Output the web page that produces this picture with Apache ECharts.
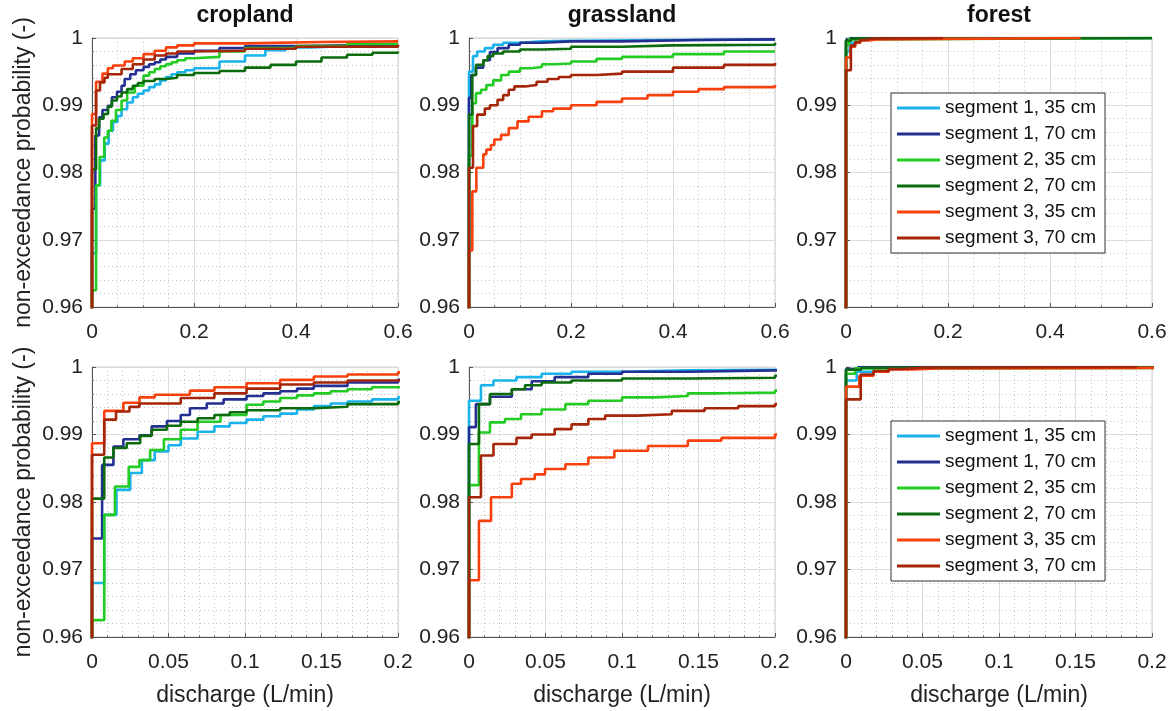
<!DOCTYPE html>
<html>
<head>
<meta charset="utf-8">
<script src="https://cdn.jsdelivr.net/npm/echarts@6/dist/echarts.min.js"></script>
<style>
  html, body { margin: 0; padding: 0; background: #fff; }
  #chart { width: 1175px; height: 711px; }
</style>
</head>
<body>
<div id="chart"></div>
<script>
const landUses = ['cropland', 'grassland', 'forest']
const seriesNames = [
  'segment 1, 35 cm',
  'segment 1, 70 cm',
  'segment 2, 35 cm',
  'segment 2, 70 cm',
  'segment 3, 35 cm',
  'segment 3, 70 cm',
]
const seriesColors = ['#1ab2ea', '#232f91', '#22cc22', '#0c6b0c', '#f8400c', '#a52508']

const yTicks = [0.96, 0.97, 0.98, 0.99, 1]
const xTicksTop = [0, 0.2, 0.4, 0.6]
const xTicksBottom = [0, 0.05, 0.1, 0.15, 0.2]

// [discharge, non-exceedance probability] step points
const cropS1_35 = [[0, 0], [0, 0.968], [0.008, 0.9781], [0.016, 0.9818], [0.025, 0.9843], [0.0326, 0.9862], [0.041, 0.9875], [0.05, 0.9884], [0.058, 0.9894], [0.069, 0.9904], [0.08, 0.9912], [0.09, 0.9917], [0.101, 0.9922], [0.112, 0.9927], [0.123, 0.9931], [0.134, 0.9937], [0.145, 0.9942], [0.156, 0.9946], [0.167, 0.9949], [0.183, 0.9952], [0.2, 0.9955], [0.25, 0.9965], [0.3, 0.9974], [0.34, 0.9982], [0.38, 0.9986], [0.43, 0.9988], [0.5, 0.999], [0.6, 0.9991]]
const cropS1_70 = [[0, 0], [0, 0.9746], [0.0066, 0.9855], [0.014, 0.9882], [0.0205, 0.9893], [0.031, 0.9899], [0.039, 0.9912], [0.049, 0.992], [0.058, 0.9929], [0.064, 0.9939], [0.075, 0.9946], [0.086, 0.9952], [0.101, 0.9957], [0.112, 0.9961], [0.123, 0.9964], [0.134, 0.9968], [0.145, 0.9972], [0.167, 0.9977], [0.2, 0.9981], [0.25, 0.9985], [0.3, 0.9988], [0.4, 0.9989], [0.5, 0.999], [0.6, 0.9991]]
const cropS2_35 = [[0, 0], [0, 0.9625], [0.008, 0.9781], [0.015, 0.9823], [0.024, 0.9852], [0.031, 0.9862], [0.038, 0.9877], [0.047, 0.9893], [0.058, 0.9907], [0.069, 0.9919], [0.084, 0.9929], [0.101, 0.9944], [0.112, 0.9949], [0.123, 0.9954], [0.134, 0.9958], [0.145, 0.9961], [0.156, 0.9964], [0.167, 0.9967], [0.183, 0.997], [0.2, 0.9972], [0.25, 0.998], [0.3, 0.9985], [0.4, 0.9988], [0.5, 0.9991], [0.6, 0.9992]]
const cropS2_70 = [[0, 0], [0, 0.9805], [0.008, 0.9866], [0.014, 0.988], [0.0227, 0.9887], [0.0315, 0.9898], [0.039, 0.9907], [0.049, 0.9913], [0.058, 0.9919], [0.069, 0.9924], [0.08, 0.9929], [0.09, 0.9933], [0.101, 0.9936], [0.123, 0.9939], [0.145, 0.9941], [0.167, 0.9945], [0.2, 0.9948], [0.25, 0.9951], [0.3, 0.9956], [0.35, 0.996], [0.4, 0.9965], [0.45, 0.9971], [0.5, 0.9975], [0.55, 0.9978], [0.6, 0.998]]
const cropS3_35 = [[0, 0], [0, 0.9887], [0.008, 0.9935], [0.0205, 0.9947], [0.031, 0.9955], [0.041, 0.9959], [0.064, 0.9965], [0.08, 0.997], [0.101, 0.9976], [0.123, 0.9981], [0.145, 0.9986], [0.167, 0.9989], [0.2, 0.9992], [0.3, 0.9994], [0.45, 0.9995], [0.6, 0.9996]]
const cropS3_70 = [[0, 0], [0, 0.987], [0.008, 0.9922], [0.0157, 0.9934], [0.0245, 0.9941], [0.031, 0.9946], [0.058, 0.9954], [0.08, 0.9961], [0.101, 0.9968], [0.123, 0.9974], [0.145, 0.9977], [0.167, 0.998], [0.2, 0.9981], [0.3, 0.9984], [0.4, 0.9987], [0.6, 0.999]]

const grassS1_35 = [[0, 0], [0, 0.995], [0.0078, 0.9973], [0.016, 0.998], [0.031, 0.9985], [0.0475, 0.999], [0.067, 0.9993], [0.1, 0.9995], [0.143, 0.9996], [0.2, 0.9997], [0.4, 0.9998], [0.6, 0.9998]]
const grassS1_70 = [[0, 0], [0, 0.9911], [0.0045, 0.9945], [0.0137, 0.9956], [0.028, 0.9967], [0.041, 0.9979], [0.056, 0.9985], [0.078, 0.999], [0.1, 0.9993], [0.143, 0.9995], [0.2, 0.9995], [0.3, 0.9997], [0.45, 0.9998], [0.6, 0.9999]]
const grassS2_35 = [[0, 0], [0, 0.9825], [0.0065, 0.9903], [0.0137, 0.9918], [0.0235, 0.9923], [0.034, 0.993], [0.0475, 0.9937], [0.063, 0.9945], [0.078, 0.995], [0.1, 0.9955], [0.1216, 0.9957], [0.143, 0.9961], [0.165, 0.9962], [0.2, 0.9965], [0.25, 0.9969], [0.3, 0.9972], [0.4, 0.9976], [0.5, 0.998], [0.6, 0.9981]]
const grassS2_70 = [[0, 0], [0, 0.9886], [0.0065, 0.9945], [0.0137, 0.996], [0.028, 0.9967], [0.0366, 0.9973], [0.0475, 0.9977], [0.067, 0.998], [0.1, 0.9983], [0.143, 0.9984], [0.2, 0.9987], [0.3, 0.9989], [0.4, 0.999], [0.6, 0.9993]]
const grassS3_35 = [[0, 0], [0, 0.9684], [0.0065, 0.9772], [0.0144, 0.9807], [0.028, 0.9827], [0.034, 0.9834], [0.043, 0.9841], [0.0497, 0.9849], [0.063, 0.9856], [0.078, 0.9866], [0.095, 0.9876], [0.117, 0.9883], [0.143, 0.9891], [0.165, 0.9895], [0.2, 0.99], [0.25, 0.9905], [0.3, 0.991], [0.35, 0.9915], [0.4, 0.992], [0.45, 0.9924], [0.5, 0.9927], [0.6, 0.993]]
const grassS3_70 = [[0, 0], [0, 0.9807], [0.0078, 0.9869], [0.016, 0.9886], [0.031, 0.9895], [0.041, 0.99], [0.056, 0.9908], [0.067, 0.9915], [0.078, 0.9923], [0.089, 0.9928], [0.11, 0.993], [0.1325, 0.9935], [0.154, 0.9939], [0.176, 0.9942], [0.2, 0.9945], [0.25, 0.9947], [0.3, 0.995], [0.4, 0.9956], [0.5, 0.996], [0.6, 0.9963]]

const forestS1_35 = [[0, 0], [0, 0.998], [0.007, 0.9993], [0.018, 0.9999], [0.03, 1], [0.6, 1]]
const forestS1_70 = [[0, 0], [0, 0.9997], [0.008, 1], [0.6, 1]]
const forestS2_35 = [[0, 0], [0, 0.999], [0.006, 0.9998], [0.02, 1], [0.6, 1]]
const forestS2_70 = [[0, 0], [0, 0.9996], [0.01, 0.9999], [0.025, 1], [0.6, 1]]
const forestS3_35 = [[0, 0], [0, 0.9971], [0.0087, 0.9987], [0.018, 0.9993], [0.028, 0.99965], [0.044, 0.9998], [0.06, 1], [0.46, 1]]
const forestS3_70 = [[0, 0], [0, 0.9952], [0.0096, 0.9989], [0.018, 0.9994], [0.028, 0.9997], [0.037, 0.9999], [0.05, 1], [0.19, 1]]

const panelSeries = [
  [cropS1_35, cropS1_70, cropS2_35, cropS2_70, cropS3_35, cropS3_70],
  [grassS1_35, grassS1_70, grassS2_35, grassS2_70, grassS3_35, grassS3_70],
  [forestS1_35, forestS1_70, forestS2_35, forestS2_70, forestS3_35, forestS3_70],
]

const FONT = 'Liberation Sans, Arial, sans-serif'
const colLeft = [92, 469, 846]
const rowTop = [38, 367]
const panelW = 306
const panelH = [269, 270]

const grids = []
const xAxes = []
const yAxes = []
const series = []

function fmt(v) {
  return String(+v.toFixed(2))
}

for (let r = 0; r < 2; r++) {
  const xt = r === 0 ? xTicksTop : xTicksBottom
  for (let c = 0; c < 3; c++) {
    const idx = grids.length
    grids.push({
      left: colLeft[c],
      top: rowTop[r],
      width: panelW,
      height: panelH[r],
      show: true,
      borderColor: '#d2d2d2',
      borderWidth: 1,
      backgroundColor: '#fff',
    })
    xAxes.push({
      type: 'value',
      gridIndex: idx,
      min: xt[0],
      max: xt[xt.length - 1],
      interval: xt[1] - xt[0],
      name: r === 1 ? 'discharge (L/min)' : '',
      nameLocation: 'middle',
      nameGap: 47,
      nameTextStyle: { fontSize: 23, color: '#222', fontFamily: FONT },
      axisLine: { show: true, onZero: false, lineStyle: { color: '#555', width: 1 } },
      axisTick: { show: true, inside: true, length: 4, lineStyle: { color: '#555' } },
      minorTick: { show: true, splitNumber: r === 0 ? 4 : 5, length: 2, lineStyle: { color: '#777' } },
      axisLabel: { fontSize: 21, color: '#222', fontFamily: FONT, margin: 15, formatter: fmt },
      splitLine: { show: true, lineStyle: { color: '#dcdcdc', width: 1 } },
      minorSplitLine: { show: true, lineStyle: { color: '#c4c4c4', width: 1, type: [1, 3] } },
    })
    yAxes.push({
      type: 'value',
      gridIndex: idx,
      min: yTicks[0],
      max: yTicks[yTicks.length - 1],
      interval: 0.01,
      name: c === 0 ? 'non-exceedance probability (-)' : '',
      nameLocation: 'middle',
      nameGap: 57,
      nameTextStyle: { fontSize: 23, color: '#222', fontFamily: FONT },
      axisLine: { show: true, onZero: false, lineStyle: { color: '#555', width: 1 } },
      axisTick: { show: true, inside: true, length: 4, lineStyle: { color: '#555' } },
      minorTick: { show: true, splitNumber: 5, length: 2, lineStyle: { color: '#777' } },
      axisLabel: { fontSize: 21, color: '#222', fontFamily: FONT, margin: 9, formatter: fmt },
      splitLine: { show: true, lineStyle: { color: '#dcdcdc', width: 1 } },
      minorSplitLine: { show: true, lineStyle: { color: '#c4c4c4', width: 1, type: [1, 3] } },
    })
    panelSeries[c].forEach((data, i) => {
      series.push({
        name: seriesNames[i],
        type: 'line',
        xAxisIndex: idx,
        yAxisIndex: idx,
        data: data,
        step: 'end',
        symbol: 'none',
        showSymbol: false,
        clip: true,
        color: seriesColors[i],
        lineStyle: { width: 2.6, color: seriesColors[i] },
        z: 2 + i,
        silent: true,
      })
    })
  }
}

const legendBase = {
  orient: 'vertical',
  left: 891,
  data: seriesNames,
  icon: 'rect',
  itemWidth: 43,
  itemHeight: 3,
  itemGap: 6,
  padding: [5, 9, 5, 6],
  backgroundColor: '#fff',
  borderColor: '#333',
  borderWidth: 1,
  borderRadius: 0,
  textStyle: { fontSize: 19, color: '#111', fontFamily: FONT, lineHeight: 20 },
  selectedMode: false,
}

const chart = echarts.init(document.getElementById('chart'))
chart.setOption({
  animation: false,
  backgroundColor: '#fff',
  title: landUses.map((t, c) => ({
    text: t,
    left: colLeft[c] + panelW / 2,
    top: 4,
    textAlign: 'center',
    padding: 0,
    textStyle: { fontSize: 23, fontWeight: 'bold', color: '#111', fontFamily: FONT },
  })),
  legend: [
    Object.assign({}, legendBase, { top: 93 }),
    Object.assign({}, legendBase, { top: 421 }),
  ],
  grid: grids,
  xAxis: xAxes,
  yAxis: yAxes,
  series: series,
})
</script>
</body>
</html>
